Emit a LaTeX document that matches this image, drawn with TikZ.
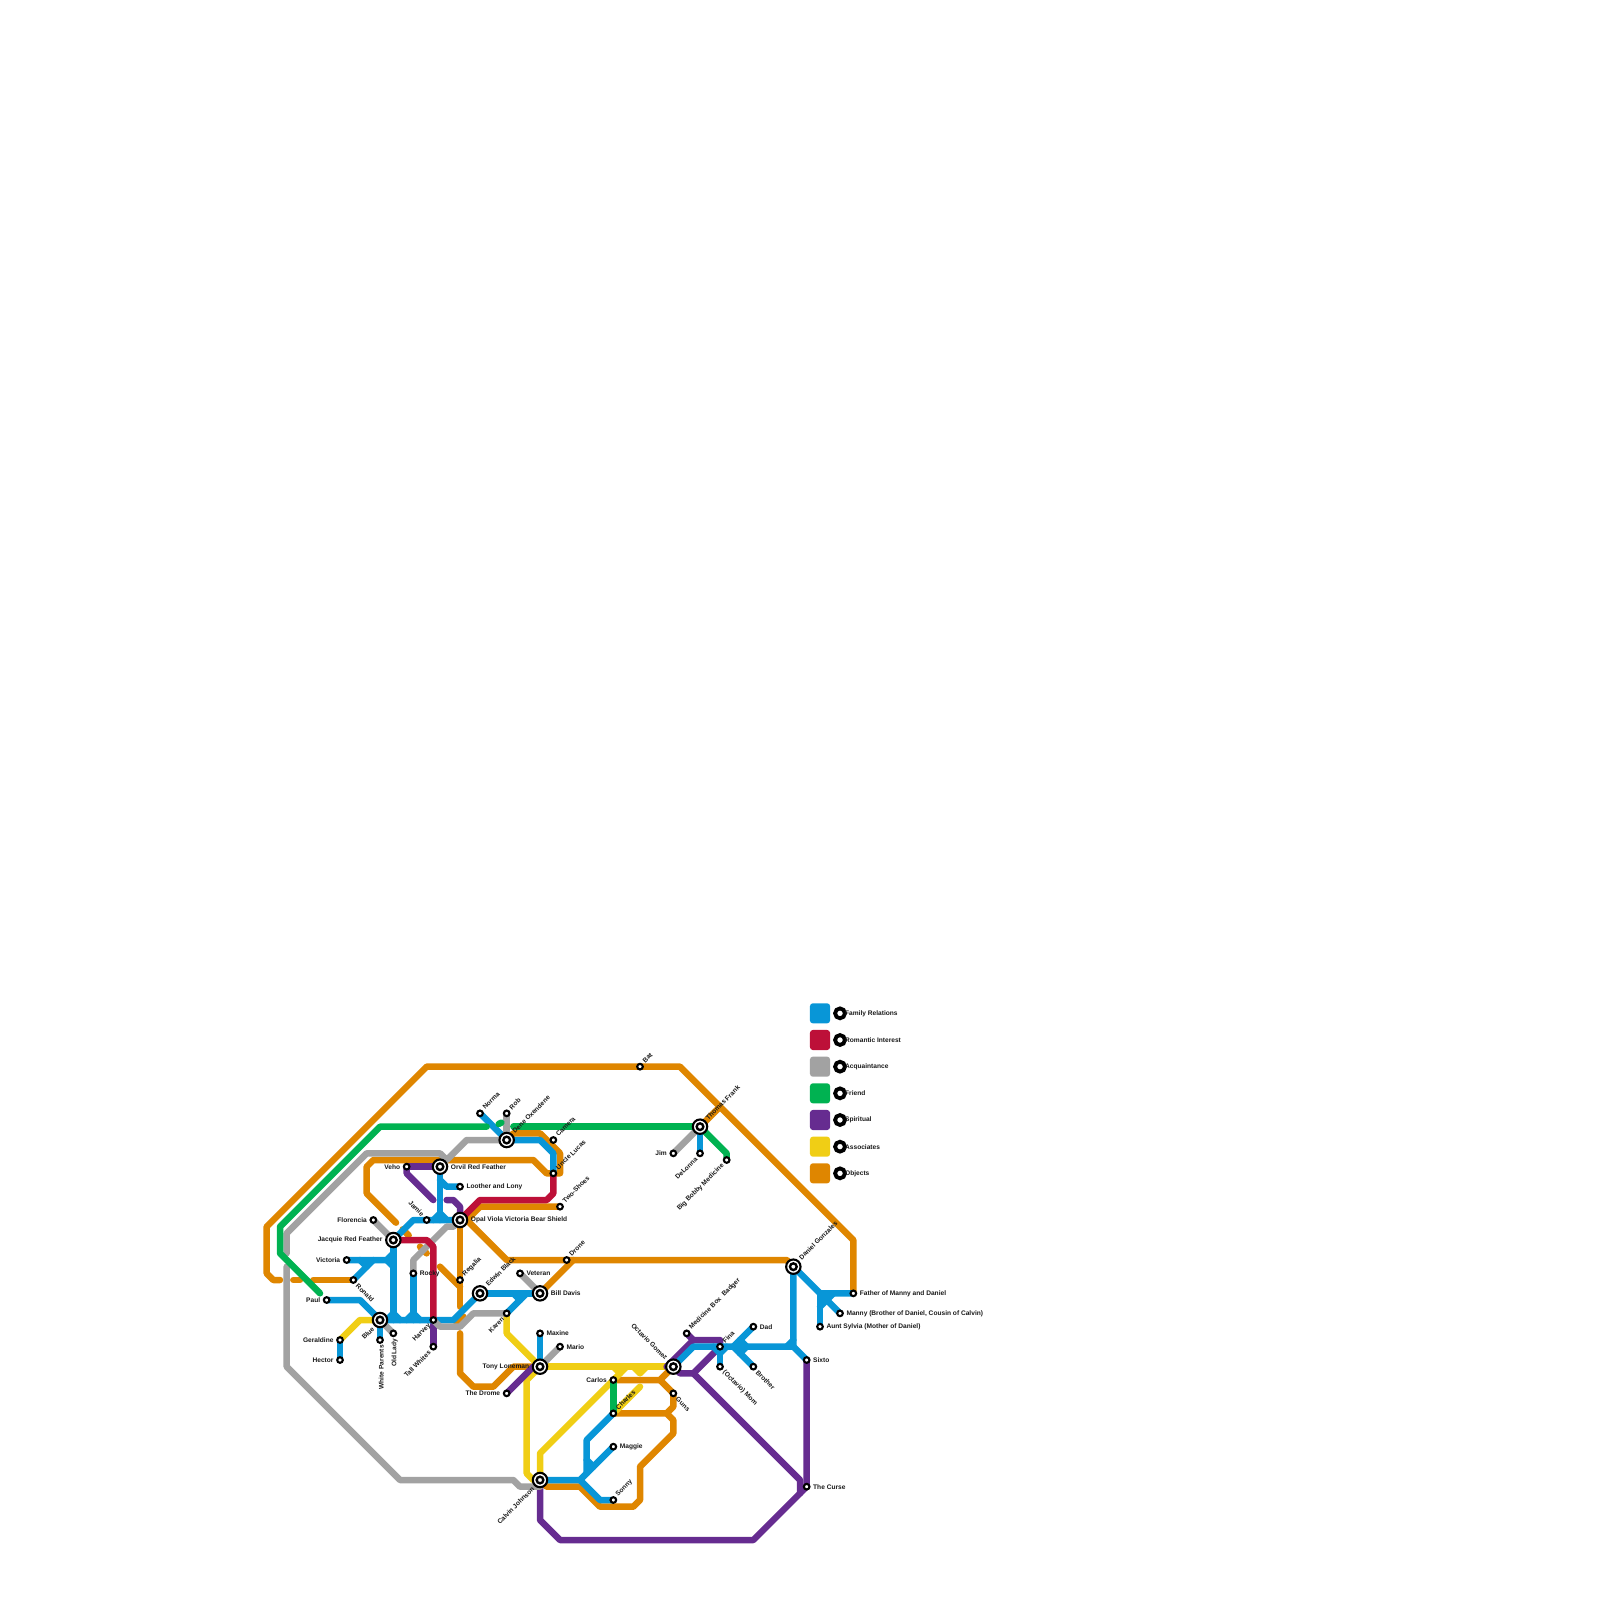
\documentclass[tikz,border=0pt]{standalone}
\usepackage{fontspec}
\setmainfont{Liberation Sans}
\usetikzlibrary{backgrounds}
\definecolor{famblue}{HTML}{0896D7}
\definecolor{romred}{HTML}{BD1038}
\definecolor{acqgrey}{HTML}{A2A2A2}
\definecolor{frigreen}{HTML}{00B251}
\definecolor{spipurple}{HTML}{662C90}
\definecolor{assyellow}{HTML}{F0CE15}
\definecolor{objorange}{HTML}{DF8600}
\tikzset{
  label distance=0.35pt,
  route/.style={line width=1.85pt,line cap=round,line join=round},
  family/.style={route,famblue},
  romantic/.style={route,romred},
  acquaintance/.style={route,acqgrey},
  friend/.style={route,frigreen},
  spiritual/.style={route,spipurple},
  associates/.style={route,assyellow},
  objects/.style={route,objorange},
  tag/.style={font=\fontsize{1.88}{2.3}\selectfont\bfseries,inner sep=0.5pt,text=black!90},
  stop/.style={circle,draw=black,fill=white,line width=0.6pt,inner sep=0pt,outer sep=0pt,minimum size=1.6pt},
  hub/.style={circle,draw=black,fill=white,line width=0.6pt,inner sep=0pt,outer sep=0pt,minimum size=4.1pt,
    path picture={\draw[black,line width=0.68pt] (path picture bounding box.center) circle (0.95pt);}},
  keystop/.style={circle,draw=black,fill=white,line width=1.1pt,inner sep=0pt,outer sep=0pt,minimum size=2.8pt},
  swatch/.style={rectangle,rounded corners=0.8pt,inner sep=0pt,minimum size=5.7pt},
  lble/.style={label={[tag,anchor=west]0:{#1}}},
  lblw/.style={label={[tag,anchor=east]180:{#1}}},
  lblne/.style={label={[tag,rotate=45,anchor=west]45:{#1}}},
  lblse/.style={label={[tag,rotate=-45,anchor=west]-45:{#1}}},
  lblsw/.style={label={[tag,rotate=45,anchor=east]225:{#1}}},
  lblnw/.style={label={[tag,rotate=-45,anchor=east]135:{#1}}},
  lbls/.style={label={[tag,rotate=90,anchor=east]-90:{#1}}}
}
\begin{document}
\begin{tikzpicture}[x=0.66667mm,y=-0.66667mm]
\useasboundingbox (0,0) rectangle (240,240);

% Hubs
\node[hub,lble={Orvil Red Feather}] (orvil) at (66,175) {};
\node[hub,lble={Opal Viola Victoria Bear Shield}] (opal) at (69,183) {};
\node[hub,lblw={Jacquie Red Feather}] (jacquie) at (59,186) {};
\node[hub,lblsw={Blue}] (blue) at (57,198) {};
\node[hub,lblne={Edwin Black}] (edwin) at (72,194) {};
\node[hub,lble={Bill Davis}] (bill) at (81,194) {};
\node[hub,lblw={Tony Loneman}] (tony) at (81,205) {};
\node[hub,lblsw={Calvin Johnson}] (calvin) at (81,222) {};
\node[hub,lblne={Dene Oxendene}] (dene) at (76,171) {};
\node[hub,lblne={Thomas Frank}] (thomas) at (105,169) {};
\node[hub,lblnw={Octavio Gomez}] (octavio) at (101,205) {};
\node[hub,lblne={Daniel Gonzales}] (daniel) at (119,190) {};

% Stops
\node[stop,lblne={Norma}] (norma) at (72,167) {};
\node[stop,lblne={Rob}] (rob) at (76,167) {};
\node[stop,lblw={Veho}] (veho) at (61,175) {};
\node[stop,lble={Loother and Lony}] (loother) at (69,178) {};
\node[stop,lblnw={Jamie}] (jamie) at (64,183) {};
\node[stop,lblw={Florencia}] (florencia) at (56,183) {};
\node[stop,lblw={Victoria}] (victoria) at (52,189) {};
\node[stop,lblse={Ronald}] (ronald) at (53,192) {};
\node[stop,lblw={Paul}] (paul) at (49,195) {};
\node[stop,lble={Rocky}] (rocky) at (62,191) {};
\node[stop,lblne={Regalia}] (regalia) at (69,192) {};
\node[stop,lble={Veteran}] (veteran) at (78,191) {};
\node[stop,lblsw={Karen}] (karen) at (76,197) {};
\node[stop,lblsw={Harvey}] (harvey) at (65,198) {};
\node[stop,lbls={White Parents}] (parents) at (57,201) {};
\node[stop,lbls={Old Lady}] (oldlady) at (59,200) {};
\node[stop,lblw={Geraldine}] (geraldine) at (51,201) {};
\node[stop,lblw={Hector}] (hector) at (51,204) {};
\node[stop,lblsw={Tall Whites}] (whites) at (65,202) {};
\node[stop,lble={Maxine}] (maxine) at (81,200) {};
\node[stop,lble={Mario}] (mario) at (84,202) {};
\node[stop,lblne={Camera}] (camera) at (83,171) {};
\node[stop,lblne={Uncle Lucas}] (lucas) at (83,176) {};
\node[stop,lblne={Two-Shoes}] (twoshoes) at (84,181) {};
\node[stop,lblne={Drone}] (drone) at (85,189) {};
\node[stop,lblne={Bat}] (bat) at (96,160) {};
\node[stop,lblw={Jim}] (jim) at (101,173) {};
\node[stop,lblsw={DeLonna}] (delonna) at (105,173) {};
\node[stop,lblsw={Big Bobby Medicine}] (bobby) at (109,174) {};
\node[stop,lblne={Medicine Box~ Badger}] (medicine) at (103,200) {};
\node[stop,lblne={Fina}] (fina) at (108,202) {};
\node[stop,lblse={(Octavio) Mom}] (mom) at (108,205) {};
\node[stop,lble={Dad}] (dad) at (113,199) {};
\node[stop,lblse={Brother}] (brother) at (113,205) {};
\node[stop,lblw={Carlos}] (carlos) at (92,207) {};
\node[stop,lblse={Guns}] (guns) at (101,209) {};
\node[stop,lblne={Charles}] (charles) at (92,212) {};
\node[stop,lble={Maggie}] (maggie) at (92,217) {};
\node[stop,lblne={Sonny}] (sonny) at (92,225) {};
\node[stop,lblw={The Drome}] (drome) at (76,209) {};
\node[stop,lble={Father of Manny and Daniel}] (father) at (128,194) {};
\node[stop,lble={Manny (Brother of Daniel, Cousin of Calvin)}] (manny) at (126,197) {};
\node[stop,lble={Aunt Sylvia (Mother of Daniel)}] (sylvia) at (123,199) {};
\node[stop,lble={Sixto}] (sixto) at (121,204) {};
\node[stop,lble={The Curse}] (curse) at (121,223) {};

% Key
\node[swatch,fill=famblue] (keyfam) at (123,152) {};
\node[swatch,fill=romred] (keyrom) at (123,156) {};
\node[swatch,fill=acqgrey] (keyacq) at (123,160) {};
\node[swatch,fill=frigreen] (keyfri) at (123,164) {};
\node[swatch,fill=spipurple] (keyspi) at (123,168) {};
\node[swatch,fill=assyellow] (keyass) at (123,172) {};
\node[swatch,fill=objorange] (keyobj) at (123,176) {};
\node[keystop] (stopfam) at (126,152) {};
\node[keystop] (stoprom) at (126,156) {};
\node[keystop] (stopacq) at (126,160) {};
\node[keystop] (stopfri) at (126,164) {};
\node[keystop] (stopspi) at (126,168) {};
\node[keystop] (stopass) at (126,172) {};
\node[keystop] (stopobj) at (126,176) {};
\node[tag,anchor=west] (textfam) at (126.4,152) {Family Relations};
\node[tag,anchor=west] (textrom) at (126.4,156) {Romantic Interest};
\node[tag,anchor=west] (textacq) at (126.4,160) {Acquaintance};
\node[tag,anchor=west] (textfri) at (126.4,164) {Friend};
\node[tag,anchor=west] (textspi) at (126.4,168) {Spiritual};
\node[tag,anchor=west] (textass) at (126.4,172) {Associates};
\node[tag,anchor=west] (textobj) at (126.4,176) {Objects};

\begin{pgfonlayer}{background}
% Objects
\draw[objects] (father.center) -- (128,186) -- (102,160) -- (64,160) -- (40,184) -- (40,191) -- (41,192) -- (42,192);
\draw[objects] (44,192) -- (45,192);
\draw[objects] (47,192) -- (ronald.center);
\draw[objects] (thomas.center) -- (108,166);
\draw[objects] (lucas.center) -- (82,176) -- (80,174) -- (56,174) -- (55,175) -- (55,179) -- (59.4,183.4);
\draw[objects] (60.4,184.4) -- (61.3,185.3);
\draw[objects] (63,187) -- (64,188);
\draw[objects] (66,190) -- (69,193);
\draw[objects] (opal.center) -- (69,196);
\draw[objects] (68.5,198.5) -- (69.5,197.5);
\draw[objects] (69,200) -- (69,206) -- (71,208) -- (74,208) -- (77,205) -- (tony.center);
\draw[objects] (opal.center) -- (70,183) -- (76,189) -- (118,189) -- (daniel.center);
\draw[objects] (bill.center) -- (86,189);
\draw[objects] (opal.center) -- (70,183) -- (72,181) -- (twoshoes.center);
\draw[objects] (dene.center) -- (77,170) -- (81,170) -- (84,173) -- (84,176) -- (lucas.center);
\draw[objects] (calvin.center) -- (82,223) -- (87,223) -- (90,226) -- (95,226) -- (96,225) -- (96,220) -- (101,215) -- (101,213) -- (100,212) -- (charles.center);
\draw[objects] (carlos.center) -- (99,207) -- (octavio.center);
\draw[objects] (99,207) -- (guns.center) -- (101,211) -- (100,212);
% Associates
\draw[associates] (geraldine.center) -- (54,198) -- (blue.center);
\draw[associates] (karen.center) -- (76,200) -- (tony.center);
\draw[associates] (tony.center) -- (octavio.center);
\draw[associates] (tony.center) -- (79,207) -- (79,221) -- (80,222) -- (calvin.center);
\draw[associates] (calvin.center) -- (81,218) -- (carlos.center) -- (94,205);
\draw[associates] (92,205) -- (93,206);
\draw[associates] (charles.center) -- (96,208);
\draw[associates] (95,205) -- (96,206) -- (97,205);
% Spiritual
\draw[spiritual] (veho.center) -- (orvil.center);
\draw[spiritual] (veho.center) -- (61,176) -- (65,180);
\draw[spiritual] (67,180) -- (68,180) -- (69,181) -- (opal.center);
\draw[spiritual] (harvey.center) -- (whites.center);
\draw[spiritual] (tony.center) -- (80,205) -- (drome.center);
\draw[spiritual] (calvin.center) -- (81,228) -- (84,231) -- (113,231) -- (curse.center) -- (sixto.center);
\draw[spiritual] (octavio.center) -- (102,206) -- (104,206) -- (fina.center);
\draw[spiritual] (104,206) -- (120,222) -- (120,224);
\draw[spiritual] (octavio.center) -- (100,205) -- (104,201) -- (108,201) -- (fina.center);
\draw[spiritual] (medicine.center) -- (104,201);
% Family Relations
\draw[family] (norma.center) -- (dene.center) -- (81,171) -- (83,173) -- (lucas.center);
\draw[family] (orvil.center) -- (66,183);
\draw[family] (66,177) -- (67,178) -- (loother.center);
\draw[family] (65,183) -- (66,182) -- (67,183);
\draw[family] (jacquie.center) -- (62,183) -- (jamie.center) -- (opal.center);
\draw[family] (jacquie.center) -- (59,198);
\draw[family] (blue.center) -- (harvey.center) -- (68,198) -- (edwin.center);
\draw[family] (58,198) -- (59,197) -- (60,198);
\draw[family] (rocky.center) -- (62,198);
\draw[family] (61,198) -- (62,197) -- (63,198);
\draw[family] (victoria.center) -- (58,189) -- (59,188);
\draw[family] (58,189) -- (59,190);
\draw[family] (ronald.center) -- (56,189);
\draw[family] (54,189) -- (55,190);
\draw[family] (paul.center) -- (54,195) -- (blue.center);
\draw[family] (blue.center) -- (parents.center);
\draw[family] (geraldine.center) -- (hector.center);
\draw[family] (edwin.center) -- (bill.center);
\draw[family] (karen.center) -- (79,194);
\draw[family] (77,194) -- (78,195);
\draw[family] (maxine.center) -- (tony.center);
\draw[family] (octavio.center) -- (104,202) -- (119,202) -- (daniel.center);
\draw[family] (118,202) -- (119,201);
\draw[family] (119,202) -- (sixto.center);
\draw[family] (fina.center) -- (mom.center);
\draw[family] (107,202) -- (108,203) -- (109,202);
\draw[family] (dad.center) -- (110,202) -- (brother.center);
\draw[family] (111,201) -- (112,202) -- (111,203);
\draw[family] (daniel.center) -- (123,194) -- (father.center);
\draw[family] (123,194) -- (sylvia.center);
\draw[family] (123,194) -- (manny.center);
\draw[family] (124,195) -- (125,194);
\draw[family] (123,196) -- (124,195);
\draw[family] (calvin.center) -- (87,222) -- (maggie.center);
\draw[family] (87,222) -- (90,225) -- (sonny.center);
\draw[family] (charles.center) -- (88,216) -- (88,221);
\draw[family] (88,219) -- (89,220);
\draw[family] (thomas.center) -- (delonna.center);
% Acquaintance
\draw[acquaintance] (43,188) -- (43,185) -- (55,173) -- (66,173) -- (67,174) -- (70,171) -- (dene.center);
\draw[acquaintance] (43,190) -- (43,205) -- (60,222) -- (77,222) -- (78,223) -- (81,223) -- (calvin.center);
\draw[acquaintance] (rob.center) -- (dene.center);
\draw[acquaintance] (florencia.center) -- (jacquie.center);
\draw[acquaintance] (blue.center) -- (oldlady.center);
\draw[acquaintance] (opal.center) -- (68,184) -- (67,184) -- (62,189) -- (rocky.center);
\draw[acquaintance] (harvey.center) -- (66,199) -- (69,199) -- (71,197) -- (karen.center);
\draw[acquaintance] (veteran.center) -- (bill.center);
\draw[acquaintance] (mario.center) -- (tony.center);
\draw[acquaintance] (jim.center) -- (thomas.center);
% Romantic Interest
\draw[romantic] (jacquie.center) -- (64,186) -- (65,187) -- (harvey.center);
\draw[romantic] (opal.center) -- (72,180) -- (82,180) -- (83,179) -- (lucas.center);
% Friend
\draw[friend] (73,169) -- (57,169) -- (42,184) -- (42,188) -- (48,194);
\draw[friend] (74.8,168.6) -- (75.2,168.4);
\draw[friend] (77,169) -- (thomas.center);
\draw[friend] (thomas.center) -- (109,173) -- (bobby.center);
\draw[friend] (carlos.center) -- (charles.center);
\end{pgfonlayer}
\end{tikzpicture}
\end{document}
